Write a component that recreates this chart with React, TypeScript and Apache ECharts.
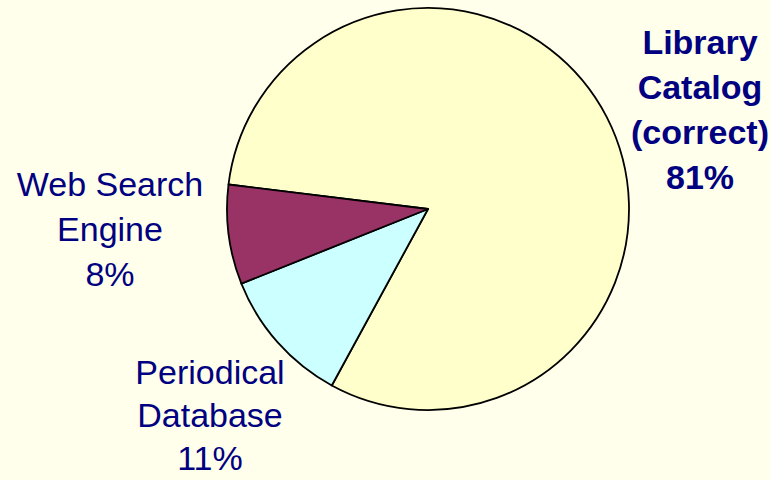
import React, { useEffect, useRef } from "react";
import * as echarts from "echarts";

const categories = ["Library\nCatalog\n(correct)", "Periodical\nDatabase", "Web Search\nEngine"];
const values = [81, 11, 8];
const colors = ["#FFFFCC", "#CCFFFF", "#993366"];
const boldLabels = [true, false, false];
const lineHeights = [45, 43, 45];
// label anchor positions (px) for each slice's text block
const labelPositions = [
  [700, 109],
  [210, 415],
  [110, 229],
];

export default function App() {
  const ref = useRef<HTMLDivElement>(null);
  useEffect(() => {
    if (!ref.current) return;
    const chart = echarts.init(ref.current, undefined, { renderer: "svg" });
    chart.setOption({
      animation: false,
      backgroundColor: "#FFFFEC",
      series: [
        {
          type: "pie",
          center: [428, 209],
          radius: 201,
          startAngle: 173,
          clockwise: true,
          avoidLabelOverlap: false,
          data: categories.map((name, i) => ({
            name,
            value: values[i],
            itemStyle: { color: colors[i] },
            label: { fontWeight: boldLabels[i] ? "bold" : "normal", lineHeight: lineHeights[i] },
          })),
          itemStyle: { borderColor: "#000000", borderWidth: 1.8 },
          emphasis: { disabled: true },
          label: {
            show: true,
            position: "outside",
            color: "#000080",
            fontFamily: "Liberation Sans, Arial, sans-serif",
            fontSize: 34,
            lineHeight: 45,
            align: "center",
            formatter: (p: any) => `${p.name}\n${Math.round(p.percent)}%`,
          },
          labelLine: { show: false },
          labelLayout: (params: any) => {
            const pos = labelPositions[params.dataIndex];
            return { x: pos[0], y: pos[1], align: "center", verticalAlign: "middle" };
          },
        },
      ],
    });
    return () => chart.dispose();
  }, []);
  return (
    <div
      ref={ref}
      style={{ position: "fixed", left: 0, top: 0, width: 770, height: 480 }}
    />
  );
}
